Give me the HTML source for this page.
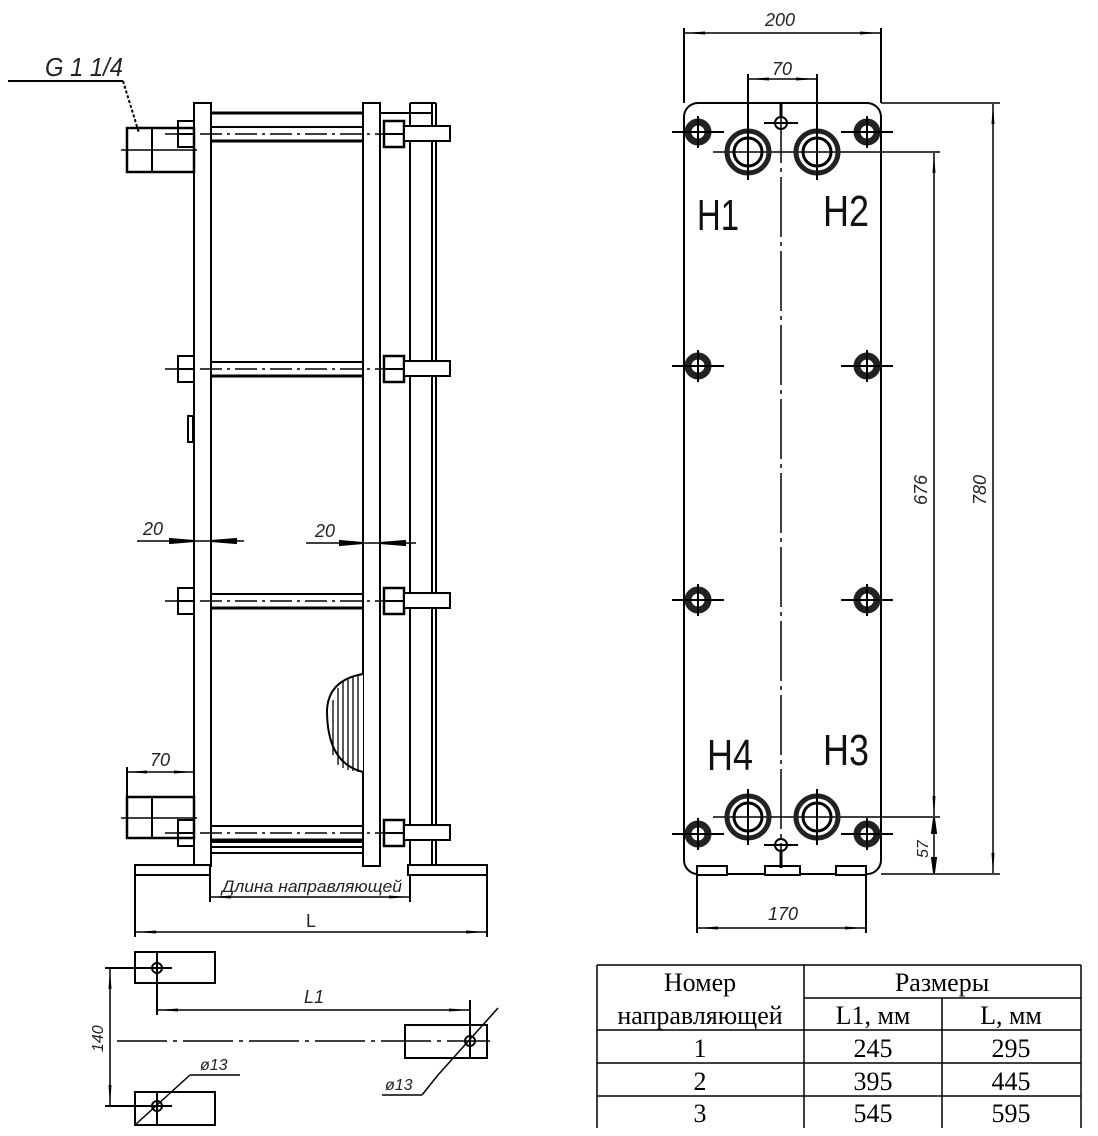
<!DOCTYPE html>
<html><head><meta charset="utf-8"><style>
html,body{margin:0;padding:0;background:#fff;}
svg{display:block;}
.t{font-family:"Liberation Sans",sans-serif;font-style:italic;fill:#222;}
.s{font-family:"Liberation Serif","Noto Serif CJK SC",serif;fill:#000;font-size:26px;}
</style></head><body>
<svg width="1098" height="1136" viewBox="0 0 1098 1136" xmlns="http://www.w3.org/2000/svg">
<defs>
<marker id="a" viewBox="0 0 20 6" refX="20" refY="3" markerWidth="20" markerHeight="6" markerUnits="userSpaceOnUse" orient="auto-start-reverse"><path d="M0,1.5 L20,3 L0,4.5 Z" fill="#000"/></marker>
</defs>
<g stroke="#000" fill="none" stroke-width="2">
<line x1="8" y1="81" x2="123" y2="81"/>
<line x1="123" y1="81" x2="139" y2="133" stroke-dasharray="3,2"/>
<rect x="194" y="103" width="17" height="763" fill="#fff"/>
<rect x="363" y="103" width="17" height="763" fill="#fff"/>
<line x1="410" y1="103" x2="410" y2="866"/>
<line x1="432" y1="103" x2="432" y2="866"/>
<line x1="436" y1="103" x2="436" y2="866"/>
<line x1="410" y1="103" x2="436" y2="103"/>
<line x1="211" y1="113" x2="363" y2="113" stroke-width="3"/>
<line x1="380" y1="113" x2="432" y2="113"/>
<g id="rod">
<line x1="211" y1="127" x2="363" y2="127"/>
<line x1="211" y1="141" x2="363" y2="141" stroke-width="3"/>
<rect x="178" y="121" width="16" height="26" fill="#fff"/>
<line x1="178" y1="134" x2="194" y2="134"/>
<rect x="384" y="121" width="20" height="26" fill="#fff" stroke-width="2.5"/>
<line x1="384" y1="134" x2="404" y2="134"/>
<rect x="404" y="126" width="46" height="15" fill="#fff"/>
<line x1="165" y1="134" x2="383" y2="134" stroke-dasharray="22,5,3,5" stroke-width="1.5"/>
</g>
<use href="#rod" y="235"/>
<use href="#rod" y="467"/>
<use href="#rod" y="699"/>
<line x1="211" y1="842" x2="363" y2="842"/>
<line x1="211" y1="847" x2="363" y2="847"/>
<line x1="211" y1="853" x2="363" y2="853"/>
<rect x="127" y="128" width="67" height="44" stroke-width="2.5"/>
<line x1="152" y1="128" x2="152" y2="172"/>
<line x1="121" y1="150" x2="197" y2="150" stroke-width="1.5"/>
<rect x="188" y="416" width="5" height="26"/>
<rect x="127" y="797" width="67" height="41" stroke-width="2.5"/>
<line x1="152" y1="797" x2="152" y2="838"/>
<line x1="121" y1="818" x2="197" y2="818" stroke-width="1.5"/>
<line x1="127" y1="767" x2="127" y2="797"/>
<line x1="127" y1="772" x2="194" y2="772" marker-start="url(#a)" marker-end="url(#a)" stroke-width="1.5"/>
<path d="M363,674 C340,678 328,690 327,710 C327,740 335,765 363,772" fill="#fff"/>
<g stroke-width="1.3"><line x1="333" y1="700" x2="333" y2="755"/><line x1="338" y1="688" x2="338" y2="765"/><line x1="343" y1="682" x2="343" y2="768"/><line x1="348" y1="678" x2="348" y2="770"/><line x1="353" y1="676" x2="353" y2="771"/><line x1="358" y1="675" x2="358" y2="772"/></g>
<rect x="135" y="865" width="75" height="10" fill="#fff"/>
<rect x="408" y="865" width="79" height="10" fill="#fff"/>
<line x1="210" y1="875" x2="210" y2="902"/>
<line x1="410" y1="875" x2="410" y2="902"/>
<line x1="211" y1="897" x2="409" y2="897" marker-start="url(#a)" marker-end="url(#a)" stroke-width="1.5"/>
<line x1="135" y1="875" x2="135" y2="937"/>
<line x1="487" y1="875" x2="487" y2="937"/>
<line x1="136" y1="932" x2="486" y2="932" marker-start="url(#a)" marker-end="url(#a)" stroke-width="1.5"/>
<line x1="137" y1="541" x2="244" y2="541" stroke-width="1.5"/>
<path d="M170,539 L194,541 L170,543Z M236,539 L211,541 L236,543Z" fill="#000"/>
<line x1="306" y1="543" x2="416" y2="543" stroke-width="1.5"/>
<path d="M340,541 L363,543 L340,545Z M405,541 L380,543 L405,545Z" fill="#000"/>

<rect x="684" y="103" width="197" height="771" rx="14" fill="#fff"/>
<line x1="781" y1="103" x2="781" y2="874" stroke-dasharray="60,5,4,5" stroke-width="1.5"/>
<line x1="684" y1="103" x2="684" y2="28"/><line x1="881" y1="103" x2="881" y2="28"/>
<line x1="685" y1="33" x2="880" y2="33" marker-start="url(#a)" marker-end="url(#a)" stroke-width="1.5"/>
<line x1="748" y1="152" x2="748" y2="74"/><line x1="817" y1="152" x2="817" y2="74"/>
<line x1="749" y1="79" x2="816" y2="79" marker-start="url(#a)" marker-end="url(#a)" stroke-width="1.5"/>
<line x1="881" y1="103" x2="1000" y2="103" stroke-width="1.5"/>
<line x1="713" y1="152" x2="940" y2="152" stroke-width="1.5"/>
<line x1="713" y1="817" x2="940" y2="817" stroke-width="1.5"/>
<line x1="881" y1="874" x2="1000" y2="874" stroke-width="1.5"/>
<line x1="993" y1="104" x2="993" y2="873" marker-start="url(#a)" marker-end="url(#a)" stroke-width="1.5"/>
<line x1="934" y1="153" x2="934" y2="816" marker-start="url(#a)" marker-end="url(#a)" stroke-width="1.5"/>
<line x1="934" y1="818" x2="934" y2="873" stroke-width="1.5"/>
<path d="M932,833 L934,818 L936,833Z M932,858 L934,873 L936,858Z" fill="#000"/>
<rect x="697" y="866" width="30" height="9" fill="#fff"/>
<rect x="765" y="866" width="35" height="9" fill="#fff"/>
<rect x="836" y="866" width="30" height="9" fill="#fff"/>
<line x1="697" y1="875" x2="697" y2="933"/><line x1="866" y1="875" x2="866" y2="933"/>
<line x1="698" y1="928" x2="865" y2="928" marker-start="url(#a)" marker-end="url(#a)" stroke-width="1.5"/>
<g id="port">
<circle cx="748" cy="152" r="21" stroke-width="5" stroke="#222"/>
<circle cx="748" cy="152" r="14" stroke-width="3"/>
<line x1="748" y1="124" x2="748" y2="180"/>
</g>
<use href="#port" x="69"/>
<use href="#port" y="665"/>
<use href="#port" x="69" y="665"/>
<g id="bolt">
<circle cx="698" cy="132" r="10" stroke-width="7" stroke="#222"/>
<line x1="672" y1="132" x2="724" y2="132"/>
<line x1="698" y1="116" x2="698" y2="148"/>
</g>
<use href="#bolt" x="169"/>
<use href="#bolt" y="234"/><use href="#bolt" x="169" y="234"/>
<use href="#bolt" y="468"/><use href="#bolt" x="169" y="468"/>
<use href="#bolt" y="702"/><use href="#bolt" x="169" y="702"/>
<circle cx="781" cy="123" r="6"/>
<line x1="764" y1="123" x2="798" y2="123"/><line x1="781" y1="103" x2="781" y2="117" stroke-width="3"/>
<circle cx="781" cy="845" r="6"/>
<line x1="764" y1="845" x2="798" y2="845"/><line x1="781" y1="851" x2="781" y2="868" stroke-width="3"/>

<rect x="135" y="952" width="80" height="31"/>
<rect x="135" y="1092" width="80" height="33"/>
<rect x="405" y="1025" width="82" height="33"/>
<circle cx="157" cy="968" r="5"/><circle cx="157" cy="1106" r="5"/><circle cx="470" cy="1041" r="5"/>
<line x1="105" y1="968" x2="172" y2="968"/><line x1="105" y1="1106" x2="172" y2="1106"/>
<line x1="157" y1="952" x2="157" y2="1015"/><line x1="157" y1="1092" x2="157" y2="1126"/>
<line x1="470" y1="1000" x2="470" y2="1058"/>
<line x1="110" y1="969" x2="110" y2="1105" marker-start="url(#a)" marker-end="url(#a)" stroke-width="1.5"/>
<line x1="158" y1="1010" x2="469" y2="1010" marker-start="url(#a)" marker-end="url(#a)" stroke-width="1.5"/>
<line x1="117" y1="1041" x2="490" y2="1041" stroke-dasharray="50,6,4,6" stroke-width="1.5"/>
<line x1="135" y1="1125" x2="190" y2="1075" stroke-width="1.5"/><line x1="190" y1="1075" x2="240" y2="1075" stroke-width="1.5"/>
<line x1="438" y1="1075" x2="498" y2="1008" stroke-width="1.5"/><line x1="382" y1="1095" x2="422" y2="1095" stroke-width="1.5"/><line x1="422" y1="1095" x2="438" y2="1075" stroke-width="1.5"/>

<g stroke-width="1.5">
<line x1="597" y1="965" x2="1081" y2="965"/>
<line x1="804" y1="998" x2="1081" y2="998"/>
<line x1="597" y1="1030" x2="1081" y2="1030"/>
<line x1="597" y1="1063" x2="1081" y2="1063"/>
<line x1="597" y1="1096" x2="1081" y2="1096"/>
<line x1="597" y1="965" x2="597" y2="1128"/>
<line x1="804" y1="965" x2="804" y2="1128"/>
<line x1="942" y1="998" x2="942" y2="1128"/>
<line x1="1081" y1="965" x2="1081" y2="1128"/>
</g>
</g>
<g class="t">
<text x="45" y="76" font-size="26" textLength="78" lengthAdjust="spacingAndGlyphs">G 1 1/4</text>
<text x="143" y="535" font-size="18">20</text>
<text x="315" y="537" font-size="18">20</text>
<text x="150" y="766" font-size="18">70</text>
<text x="222" y="892" font-size="17" textLength="180" lengthAdjust="spacingAndGlyphs">Длина направляющей</text>
<text x="306" y="927" font-size="18" font-style="normal">L</text>
<text x="765" y="26" font-size="18">200</text>
<text x="772" y="75" font-size="18">70</text>
<text x="768" y="920" font-size="18">170</text>
<text x="304" y="1003" font-size="18">L1</text>
<text x="200" y="1070" font-size="16">ø13</text>
<text x="385" y="1090" font-size="16">ø13</text>
<text font-size="18" transform="translate(927,505) rotate(-90)">676</text>
<text font-size="18" transform="translate(986,505) rotate(-90)">780</text>
<text font-size="16" transform="translate(928,858) rotate(-90)">57</text>
<text font-size="16" transform="translate(103,1052) rotate(-90)">140</text>
</g>
<g font-family="Liberation Sans,sans-serif" font-size="44" fill="#111">
<text x="697" y="230" textLength="42" lengthAdjust="spacingAndGlyphs">H1</text>
<text x="823" y="226" textLength="46" lengthAdjust="spacingAndGlyphs">H2</text>
<text x="707" y="770" textLength="46" lengthAdjust="spacingAndGlyphs">H4</text>
<text x="823" y="765" textLength="46" lengthAdjust="spacingAndGlyphs">H3</text>
</g>
<g class="s" text-anchor="middle">
<text x="700" y="991">Номер</text>
<text x="700" y="1024">направляющей</text>
<text x="942" y="991">Размеры</text>
<text x="873" y="1024">L1, мм</text>
<text x="1011" y="1024">L, мм</text>
<text x="700" y="1057">1</text><text x="873" y="1057">245</text><text x="1011" y="1057">295</text>
<text x="700" y="1090">2</text><text x="873" y="1090">395</text><text x="1011" y="1090">445</text>
<text x="700" y="1122">3</text><text x="873" y="1122">545</text><text x="1011" y="1122">595</text>
</g>
</svg>
</body></html>
